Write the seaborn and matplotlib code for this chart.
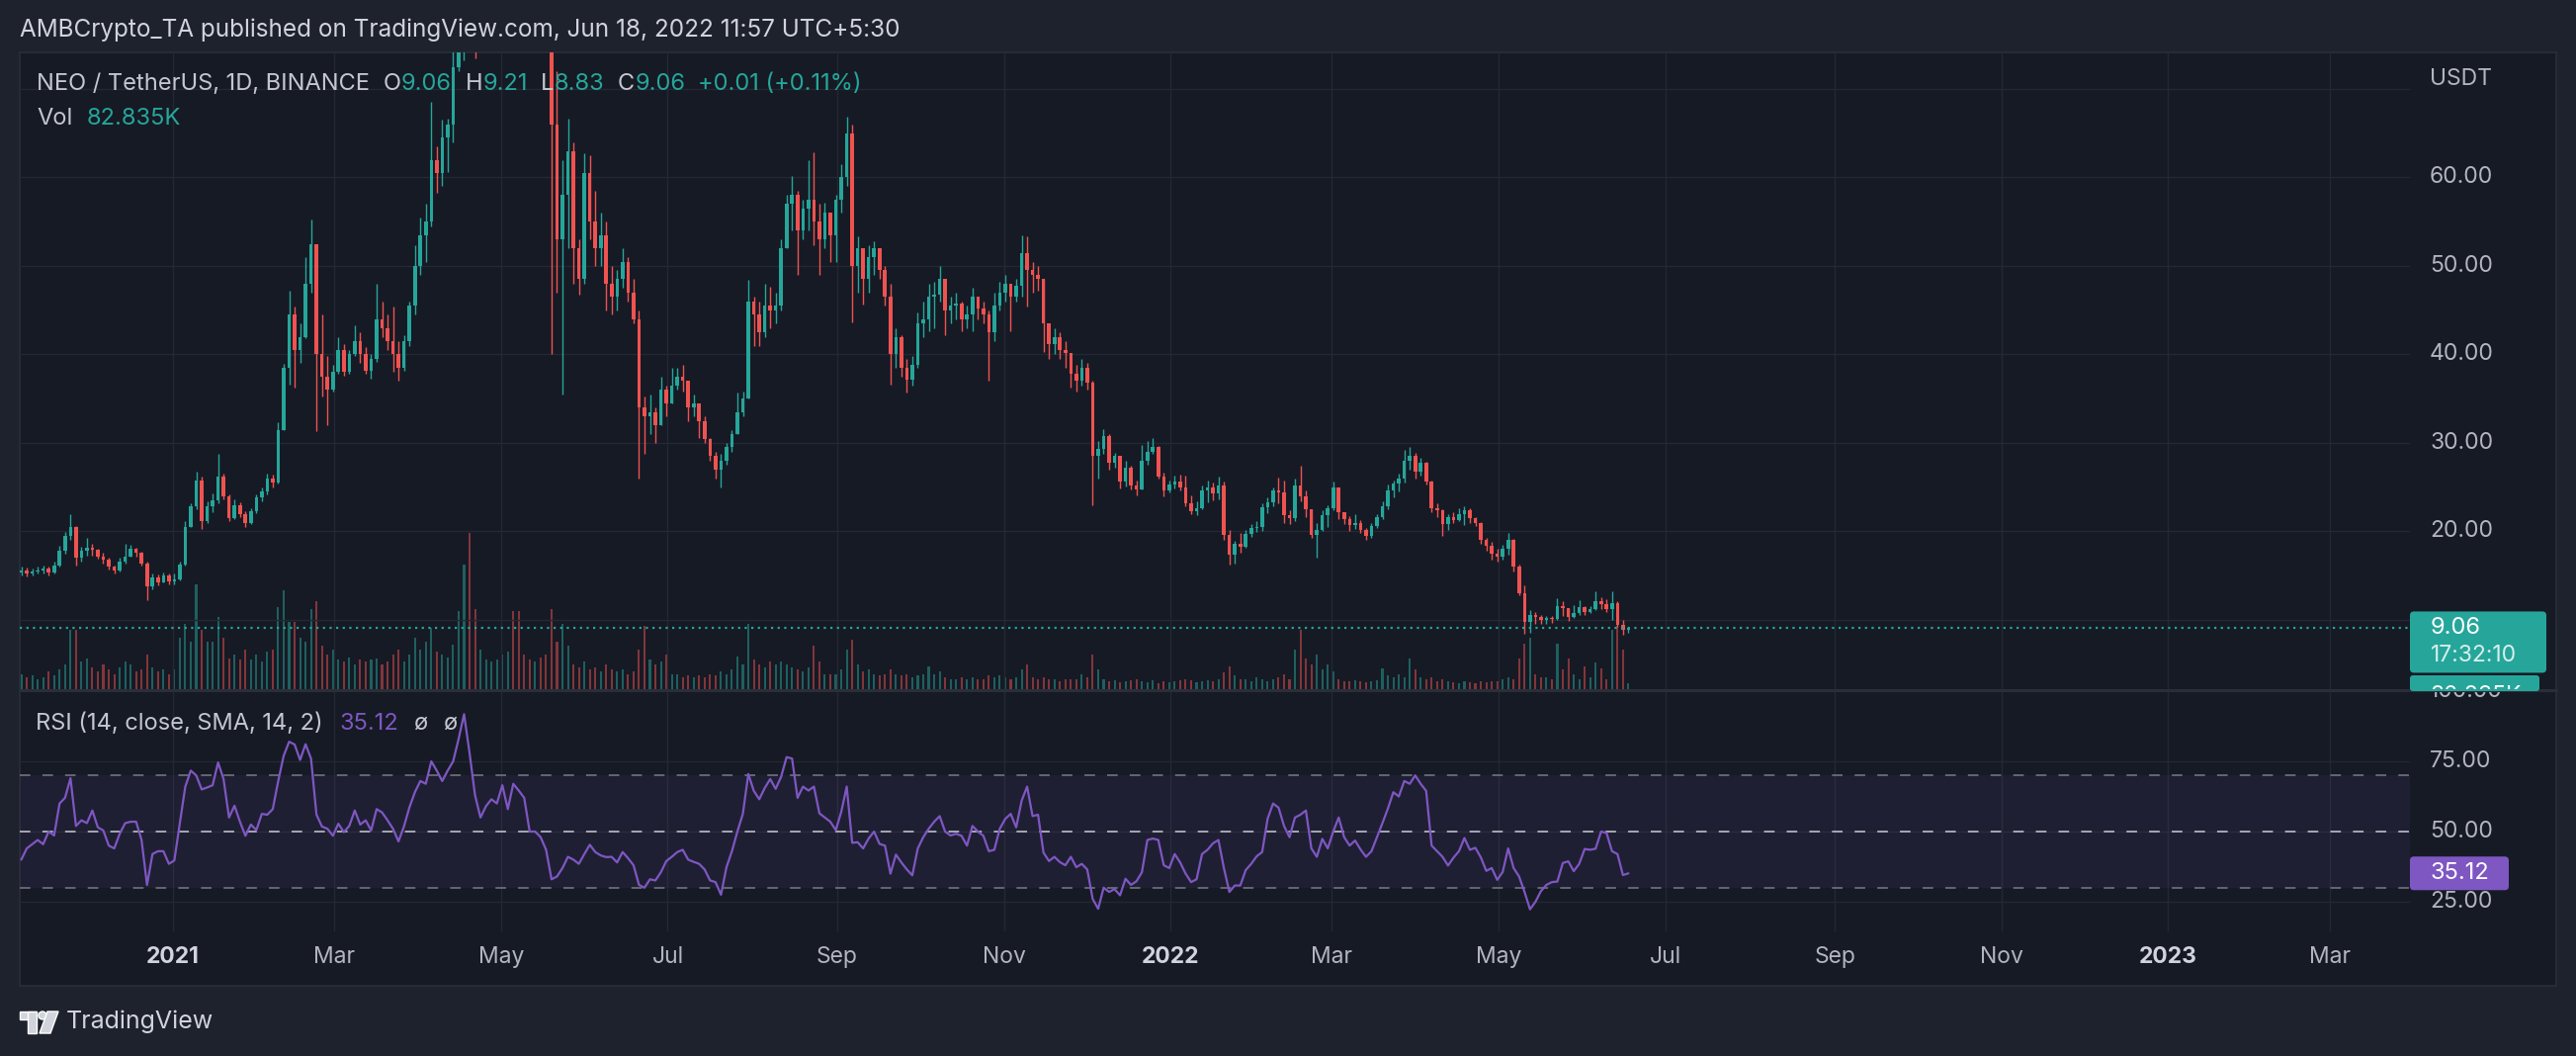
import numpy as np
import pandas as pd
import matplotlib
matplotlib.use("Agg")
import matplotlib.pyplot as plt
from matplotlib.patches import Rectangle, FancyBboxPatch, Polygon, Circle
from matplotlib.lines import Line2D
from matplotlib.transforms import IdentityTransform, Bbox, blended_transform_factory
import seaborn as sns

# NEO / USDT in 2-day steps starting 2020-11-06
first_open = 15.4
close = [
    15.6, 15.2, 15.5, 15.6, 15.8, 15.4, 16.2, 17.8, 19.5, 20.5, 17.0, 17.8, 18.2,
    17.9, 17.2, 16.8, 16.0, 15.6, 16.6, 17.2, 18.0, 17.6, 16.4, 13.8, 14.8, 14.3, 15.0, 14.4,
    14.6, 16.3, 20.5, 22.8, 25.8, 21.2, 22.8, 23.5, 26.2, 24.0, 21.5, 23.0, 22.0, 21.0, 22.3, 23.8,
    24.5, 26.0, 25.5, 31.5, 38.5, 44.5, 40.5, 42.0, 48.0, 52.5, 40.0, 37.5, 36.0, 38.0,
    40.5, 38.0, 40.0, 41.5, 40.0, 38.2, 39.5, 44.0, 43.0, 41.5, 40.0, 38.5, 41.5, 45.5, 50.0,
    53.5, 55.0, 62.0, 60.5, 64.5, 66.0, 72.5, 88.0, 96.0, 88.0, 80.0, 84.0, 96.0, 108.0, 118.0,
    125.0, 132.0, 128.0, 122.0, 110.0, 98.0, 100.0, 92.0, 85.0, 66.0, 53.0, 58.0, 63.0, 52.0, 48.5, 60.5,
    55.0, 52.0, 53.5, 48.0, 46.5, 48.5, 50.5, 47.0, 44.0, 34.0, 33.0, 33.5, 32.0, 36.0, 34.5,
    36.5, 37.5, 37.0, 34.0, 34.5, 32.5, 30.5, 28.5, 27.0, 28.0, 29.5, 31.0, 33.5, 35.0, 46.0,
    44.5, 42.5, 45.5, 45.0, 45.5, 52.0, 57.0, 58.0, 54.0, 56.5, 57.5, 55.0, 53.0, 56.0, 53.5, 57.5,
    60.0, 65.0, 50.0, 52.0, 48.5, 51.0, 52.0, 49.5, 46.5, 40.0, 42.0, 38.5, 37.2, 38.8, 43.5,
    44.0, 46.5, 46.8, 48.5, 45.0, 45.5, 45.8, 44.0, 44.5, 46.5, 45.2, 44.5, 42.5, 45.5, 47.0,
    48.0, 46.5, 47.8, 51.5, 49.5, 49.0, 48.5, 43.5, 41.2, 42.0, 40.5, 40.2, 37.8, 37.0, 38.5,
    36.8, 28.5, 29.3, 30.8, 27.8, 28.5, 25.6, 27.2, 25.2, 24.8, 28.0, 29.0, 29.6, 26.2, 24.6, 25.3,
    25.6, 25.0, 23.2, 22.3, 22.6, 24.6, 25.0, 24.3, 25.2, 19.6, 17.4, 18.6, 18.3, 19.7, 20.4,
    20.5, 22.7, 23.3, 24.6, 24.4, 21.8, 21.5, 25.2, 24.0, 22.5, 19.6, 20.2, 21.8, 22.6,
    25.0, 22.2, 21.4, 20.7, 21.0, 20.2, 19.5, 20.6, 21.6, 22.9, 24.6, 25.4, 26.0, 28.0, 28.6, 26.8,
    27.8, 25.6, 22.6, 22.4, 20.8, 21.6, 21.3, 22.0, 22.4, 21.5, 21.0, 19.0, 18.4, 17.5, 17.2,
    18.0, 19.0, 16.0, 13.0, 9.8, 10.6, 10.3, 10.0, 10.2, 10.1, 11.6, 11.3, 10.3, 10.8, 11.4,
    10.9, 11.2, 12.1, 11.8, 11.2, 11.9, 9.4, 8.9, 9.06,
]
high = [
    16.0, 15.9, 15.8, 16.0, 16.2, 16.0, 16.6, 18.4, 19.9, 21.9, 20.6, 18.3, 19.3,
    18.6, 18.1, 17.6, 17.0, 16.2, 17.0, 18.6, 18.5, 18.2, 17.7, 16.6, 15.2, 15.1, 15.4, 15.2,
    15.2, 16.6, 21.2, 23.2, 26.8, 26.2, 23.4, 24.3, 28.8, 26.5, 24.2, 23.6, 23.3, 22.3, 22.6, 24.2,
    25.0, 26.5, 26.4, 32.3, 38.9, 47.2, 45.4, 43.5, 51.0, 55.3, 52.5, 44.5, 39.8, 38.8,
    42.0, 41.2, 40.5, 43.3, 42.5, 40.8, 40.0, 48.0, 46.0, 44.5, 45.4, 41.5, 42.2, 46.0, 52.3,
    55.5, 57.0, 68.5, 63.5, 66.5, 66.7, 76.0, 95.0, 102.0, 98.0, 90.0, 88.0, 100.0, 112.0, 125.0,
    130.0, 138.0, 140.0, 135.0, 125.0, 115.0, 108.0, 104.0, 95.0, 88.0, 72.0, 62.0, 66.6, 64.0, 53.0, 62.7,
    62.5, 58.5, 56.0, 55.0, 50.0, 49.5, 52.0, 51.0, 48.6, 45.0, 35.3, 35.5, 34.0, 37.5, 36.5,
    38.5, 38.5, 38.8, 37.0, 35.5, 34.0, 33.0, 30.6, 29.0, 28.8, 30.0, 31.5, 35.7, 35.8, 48.4,
    46.5, 46.0, 48.0, 47.7, 47.0, 53.0, 58.0, 60.2, 58.5, 57.5, 62.0, 62.9, 57.0, 57.2, 56.0, 58.0,
    61.5, 66.9, 66.0, 53.3, 52.0, 52.3, 52.8, 51.5, 50.0, 48.0, 43.0, 42.2, 39.5, 39.8, 44.8,
    46.0, 48.0, 48.2, 50.0, 48.0, 46.5, 47.0, 46.0, 45.5, 47.5, 46.5, 46.0, 45.0, 47.0, 48.2,
    49.0, 48.0, 48.5, 53.5, 53.3, 50.5, 50.0, 48.5, 43.5, 43.0, 42.5, 41.5, 40.0, 38.8, 39.5,
    39.0, 37.0, 30.2, 31.6, 31.0, 28.9, 28.2, 28.0, 27.4, 25.8, 29.8, 30.2, 30.6, 29.7, 26.7, 25.8,
    26.3, 26.4, 26.3, 24.1, 23.4, 25.2, 25.8, 25.5, 26.2, 25.6, 20.2, 18.9, 19.8, 20.2, 20.8,
    21.2, 23.2, 23.8, 25.0, 26.1, 25.8, 22.4, 26.0, 27.4, 24.6, 22.5, 21.0, 22.4, 23.0,
    25.6, 25.0, 22.2, 21.7, 21.9, 21.3, 20.4, 21.0, 21.9, 23.4, 25.3, 25.8, 26.5, 29.2, 29.5, 28.9,
    28.3, 27.9, 25.8, 23.2, 22.5, 22.0, 22.2, 22.6, 22.9, 22.6, 21.6, 21.1, 19.3, 18.8, 18.0,
    18.5, 19.8, 19.2, 16.3, 13.9, 11.1, 10.9, 10.6, 10.5, 10.5, 12.5, 12.1, 11.3, 11.7, 12.2,
    11.6, 11.6, 13.2, 12.6, 12.3, 13.2, 12.1, 10.0, 9.21,
]
low = [
    15.0, 14.9, 15.0, 15.2, 15.3, 15.0, 15.3, 16.0, 17.5, 19.0, 16.1, 16.6, 17.3,
    17.3, 16.9, 16.4, 15.7, 15.2, 15.5, 16.4, 17.2, 17.1, 16.2, 12.2, 13.5, 13.9, 14.2, 14.0,
    14.0, 14.5, 16.2, 20.8, 22.5, 20.3, 21.0, 22.2, 23.2, 23.6, 21.2, 21.4, 21.6, 20.5, 20.8, 22.1,
    23.4, 24.2, 25.0, 25.4, 31.8, 36.6, 36.2, 39.0, 41.8, 47.0, 31.3, 35.3, 32.0, 35.8,
    37.8, 37.6, 37.8, 39.8, 39.0, 37.8, 37.3, 39.2, 42.0, 40.5, 38.0, 37.0, 38.2, 41.0, 44.5,
    49.0, 50.5, 54.5, 58.3, 59.0, 60.6, 64.0, 72.0, 73.2, 80.0, 73.5, 76.0, 82.0, 94.0, 104.0,
    115.0, 122.0, 120.0, 115.0, 100.0, 92.0, 88.0, 85.0, 80.0, 40.0, 47.0, 35.5, 52.0, 48.0, 46.8, 48.0,
    53.0, 50.0, 50.0, 45.0, 44.5, 45.0, 47.5, 46.0, 43.5, 26.0, 28.8, 31.0, 30.0, 32.0, 33.0,
    34.5, 36.0, 35.8, 32.5, 33.0, 30.6, 30.0, 28.0, 26.0, 25.0, 27.5, 29.0, 31.0, 33.0, 35.0,
    41.0, 41.0, 42.0, 43.0, 43.5, 45.0, 52.0, 54.0, 49.0, 53.0, 54.0, 52.3, 49.0, 52.0, 50.5, 50.5,
    56.0, 59.0, 43.6, 47.0, 45.6, 47.0, 49.0, 48.5, 45.5, 36.6, 38.5, 37.5, 35.7, 36.5, 38.5,
    42.0, 42.6, 43.0, 46.0, 42.2, 43.5, 44.0, 42.6, 43.0, 42.6, 44.0, 43.5, 37.0, 41.5, 45.0,
    46.0, 42.6, 46.0, 46.5, 45.4, 47.0, 47.2, 40.3, 39.5, 40.0, 39.5, 38.5, 36.2, 35.8, 36.5,
    36.0, 23.0, 26.0, 28.8, 27.0, 27.2, 24.9, 25.1, 24.8, 24.1, 24.8, 27.5, 28.8, 26.0, 24.0, 24.4,
    24.9, 24.6, 22.9, 21.9, 21.8, 22.5, 23.3, 23.5, 23.6, 19.1, 16.3, 16.4, 17.6, 18.2, 19.4,
    19.9, 20.1, 22.1, 22.8, 23.2, 20.9, 20.8, 21.2, 23.4, 21.6, 19.3, 17.0, 20.0, 20.5,
    22.4, 21.4, 20.8, 20.0, 20.3, 19.8, 19.0, 19.3, 20.4, 21.4, 22.5, 23.9, 24.5, 25.5, 27.0, 26.0,
    26.3, 25.3, 22.2, 21.6, 19.5, 20.2, 21.0, 21.2, 20.7, 21.0, 20.6, 18.6, 17.8, 16.8, 16.6,
    16.8, 17.4, 15.5, 12.8, 8.4, 8.5, 9.6, 9.5, 9.6, 9.7, 10.0, 10.5, 9.9, 10.2, 10.6,
    10.6, 10.8, 11.1, 11.2, 10.9, 10.0, 9.2, 8.3, 8.6,
]
volume_k = [
    450, 360, 420, 300, 360, 540, 420, 600, 750, 1800, 1800, 840, 930,
    660, 540, 750, 600, 450, 660, 840, 750, 540, 600, 1050, 660, 540, 600, 450,
    600, 1560, 1980, 1440, 3180, 1800, 1440, 1440, 2190, 1560, 930, 1050, 900, 1200, 900, 1050,
    840, 1140, 1200, 2490, 3000, 2040, 2040, 1560, 1440, 2430, 2670, 1320, 1050, 1200,
    900, 840, 960, 750, 900, 840, 900, 930, 750, 840, 1050, 1200, 840, 1050, 1560,
    1200, 1440, 1860, 1140, 1050, 960, 1350, 2370, 3780, 4740, 2430, 1200, 900, 840, 900,
    1050, 1140, 2370, 2370, 1050, 900, 840, 960, 1050, 2430, 1440, 1980, 1320, 750, 660, 840,
    600, 660, 540, 750, 600, 540, 600, 450, 540, 1200, 1920, 900, 750, 840, 1050,
    450, 450, 360, 420, 360, 420, 360, 450, 420, 540, 450, 600, 990, 750, 1980,
    900, 750, 660, 840, 750, 840, 750, 660, 600, 540, 660, 1320, 840, 450, 450, 450,
    600, 1200, 1500, 750, 540, 600, 450, 420, 450, 600, 450, 420, 450, 360, 420,
    450, 690, 450, 540, 360, 300, 300, 360, 300, 360, 300, 300, 420, 360, 420,
    360, 300, 360, 600, 750, 360, 300, 360, 300, 300, 240, 300, 300, 300, 450,
    360, 1050, 600, 300, 240, 270, 210, 240, 270, 300, 240, 210, 270, 180, 240, 210,
    240, 270, 300, 270, 210, 240, 270, 240, 300, 510, 690, 420, 300, 300, 240,
    360, 300, 240, 300, 360, 450, 300, 1200, 1800, 930, 750, 1050, 600, 750,
    540, 300, 240, 240, 270, 240, 210, 240, 270, 630, 420, 360, 450, 360, 930, 600,
    360, 300, 360, 240, 300, 240, 210, 180, 240, 210, 180, 240, 210, 240, 240,
    300, 360, 300, 930, 1380, 1560, 450, 360, 360, 300, 1380, 600, 930, 450, 300,
    690, 360, 810, 630, 300, 1800, 1920, 1200, 180,
]
rsi = [
    40, 44, 45.5, 47, 45.5, 50, 48.6, 60, 62, 69, 52, 54, 53,
    57.5, 51.5, 50.4, 45, 44, 49.2, 53, 53.5, 53.5, 47, 31, 42, 43, 43, 38.5,
    39.7, 53, 66, 71.7, 70, 65, 65.7, 66.5, 74.6, 68.7, 55, 59.2, 53.5, 48.5, 52.5, 50.5,
    56.3, 56, 58, 68, 77, 82, 81, 75.5, 81.1, 76, 56, 51.8, 51, 48.5,
    52.8, 49.8, 52, 57.5, 52.5, 54, 50.4, 58, 56.8, 54, 51, 46.5, 51.8, 58.6, 64,
    68, 67, 75, 71.7, 68, 71.7, 75, 83, 91.8, 78, 63, 55, 59, 61.5, 60,
    66.5, 58, 67, 64.6, 62, 50, 50, 48, 43.5, 33, 34, 37, 41, 40, 38.5, 42,
    45.3, 42.7, 41.5, 40.9, 41, 39, 42.7, 40.5, 38, 31, 30, 33, 32.6, 35.5, 39.5,
    41, 42.7, 43.5, 40, 39.2, 38.5, 36.5, 32.6, 32, 27.5, 37.3, 43, 50, 56.3, 70.5,
    64.5, 61.5, 65.5, 68.7, 65.2, 69.5, 76.5, 76, 62, 66, 64.6, 66, 56.5, 55, 53.5, 50.5,
    57, 66, 46, 46.2, 44, 47.5, 50, 45.6, 45, 35, 41.8, 39, 36.5, 34.4, 44,
    48, 51, 53.5, 55.5, 50, 48.6, 49.2, 48.5, 45, 52, 50, 48.5, 43, 43.5, 51,
    54.5, 56.3, 51.5, 61, 66, 55.5, 56, 42.5, 39.5, 41, 39.1, 38, 41, 37.3, 38.5,
    36.5, 26, 22.5, 30, 28.5, 29.5, 27.3, 33.2, 31, 32.3, 35.5, 47, 47.5, 47, 38, 37,
    42, 39, 35, 32, 33, 42, 43.5, 45.8, 47, 37, 28.5, 30.8, 30.8, 36.3, 38.5,
    41.2, 42.7, 54.6, 60, 58.5, 52, 48, 55, 56, 57.5, 44, 41, 47.4, 44,
    50, 55, 48, 45, 46.8, 43.6, 41, 43, 48, 53, 58.2, 64, 62.5, 68, 67, 70,
    67, 64.5, 45, 43, 41, 37.9, 40.7, 43, 47.7, 43.5, 44.2, 40.8, 36, 37, 32.8,
    35.6, 44, 37, 34, 28.5, 22.3, 25, 28.8, 31, 32, 32.2, 38.8, 39.4, 35.9, 38.5,
    43.8, 43.5, 43.9, 50, 49.5, 43, 42, 34.5, 35.12,
]
tick_dates = pd.to_datetime([
    "2021-01-01", "2021-03-01", "2021-05-01", "2021-07-01", "2021-09-01", "2021-11-01",
    "2022-01-01", "2022-03-01", "2022-05-01", "2022-07-01", "2022-09-01", "2022-11-01",
    "2023-01-01", "2023-03-01",
])
tick_labels = ["2021", "Mar", "May", "Jul", "Sep", "Nov",
               "2022", "Mar", "May", "Jul", "Sep", "Nov", "2023", "Mar"]
price_ticks = [20, 30, 40, 50, 60]
rsi_ticks = [25, 50, 75]

W, H = 2606, 1068
BG = "#161a25"
OUTER = "#1e222d"
FRAME = "#2a2e39"
GRID = "#242834"
UP = "#26a69a"
DOWN = "#ef5350"
PURPLE = "#7e57c2"
LABEL = "#b2b5be"
BRIGHT = "#d1d4dc"

sns.set_theme(style="dark", rc={"axes.facecolor": BG, "figure.facecolor": OUTER,
                                "grid.color": GRID, "axes.edgecolor": BG})
plt.rcParams["font.family"] = ["Inter", "DejaVu Sans"]

fig = plt.figure(figsize=(W / 100, H / 100), dpi=100)
PX = IdentityTransform()


def box(x0, y0, x1, y1):
    return [x0 / W, 1 - y1 / H, (x1 - x0) / W, (y1 - y0) / H]


def text_px(x, y, s, **kw):
    return fig.text(x, H - y, s, transform=PX, **kw)


fig.add_artist(Rectangle((20, H - 997), 2566, 944, transform=PX, facecolor=BG,
                         edgecolor=FRAME, linewidth=1.2, zorder=-2))

dates = pd.Timestamp("2020-11-06") + pd.to_timedelta(np.arange(len(close)) * 2 + 0.5, unit="D")
c = np.array(close)
o = np.r_[first_open, c[:-1]]
hi = np.maximum.reduce([np.array(high), o, c])
lo = np.minimum.reduce([np.array(low), o, c])
col = np.where(c >= o, UP, DOWN)

base = pd.Timestamp("2021-01-01")
xlim = (base - pd.Timedelta(days=56.06), base + pd.Timedelta(days=818.44))

# ---- price panel
ax = fig.add_axes(box(20, 53, 2438, 697))
axv = ax.twinx()
ax.set_zorder(axv.get_zorder() + 1)
ax.patch.set_visible(False)

axv.bar(dates, volume_k, width=0.75, color=col, alpha=0.5, linewidth=0)
axv.set_ylim(0, max(volume_k) / 0.245)
axv.set_yticks([])
axv.grid(False)

ax.vlines(dates, lo, hi, colors=col, linewidth=1.0, zorder=2)
ax.bar(dates, np.maximum(np.abs(c - o), 0.12), bottom=np.minimum(o, c), width=1.3,
       color=col, linewidth=0, zorder=3)
ax.axhline(c[-1], color=UP, linewidth=1.6, linestyle=(0, (1, 2)), zorder=4)

ax.set_xlim(*xlim)
ax.set_ylim(2.18, 74.13)
ax.set_yticks(range(10, 80, 10))
ax.set_xticks(tick_dates)
ax.set_axisbelow(True)
ax.grid(True, color=GRID, linewidth=1.0)
for a in (ax, axv):
    a.tick_params(length=0, labelbottom=False, labelleft=False, labelright=False)
    for s in a.spines.values():
        s.set_visible(False)

# ---- RSI panel
axr = fig.add_axes(box(20, 699, 2438, 942), sharex=ax)
axr.patch.set_visible(False)
axr.axhspan(30, 70, color=PURPLE, alpha=0.09, linewidth=0)
for lvl, lc in ((70, "#787b86"), (50, "#c9cbd3"), (30, "#787b86")):
    axr.axhline(lvl, color=lc, linewidth=1.1, dashes=(7, 8))
sns.lineplot(x=dates, y=rsi, ax=axr, color=PURPLE, linewidth=1.6)
axr.set_ylim(14.44, 100)
axr.set_yticks(rsi_ticks)
axr.set_xticks(tick_dates)
axr.set_xticklabels(tick_labels)
axr.set_xlabel("")
axr.set_ylabel("")
axr.set_axisbelow(True)
axr.grid(True, color=GRID, linewidth=1.0)
axr.tick_params(axis="x", length=0, pad=11, labelsize=16.5, labelcolor=LABEL)
axr.tick_params(axis="y", length=0, labelleft=False)
for lab in axr.get_xticklabels():
    if lab.get_text().isdigit():
        lab.set_fontweight("bold")
        lab.set_color(BRIGHT)
for s in axr.spines.values():
    s.set_visible(False)
axr.set_xlim(*xlim)

fig.add_artist(Line2D([20, 2586], [H - 698, H - 698], transform=PX, color=FRAME,
                      linewidth=2.2, zorder=4))

# ---- right-hand scales
price_tr = blended_transform_factory(PX, ax.transData)
rsi_tr = blended_transform_factory(PX, axr.transData)
for v in price_ticks:
    ax.text(2458, v, f"{v:.2f}", transform=price_tr, color=LABEL, fontsize=16.5,
            va="center", ha="left", clip_on=False)
text_px(2458, 80, "USDT", color=LABEL, fontsize=16.5, va="center")
for v in rsi_ticks:
    axr.text(2458, v, f"{v:.2f}", transform=rsi_tr, color=LABEL, fontsize=16.5,
             va="center", ha="left", clip_on=False)
t100 = axr.text(2458, 100, "100.00", transform=rsi_tr, color=LABEL, fontsize=16.5,
                va="center", ha="left", clip_on=True)
t100.set_clip_box(Bbox.from_extents(2438, H - 942, 2586, H - 699))

# last-price tag
y_last = ax.transData.transform((0, c[-1]))[1]
fig.add_artist(FancyBboxPatch((2438, y_last - 45), 138, 62, boxstyle="round,pad=0,rounding_size=4",
                              transform=PX, facecolor=UP, edgecolor="none", zorder=5))
fig.add_artist(FancyBboxPatch((2438, H - 699), 131, 16, boxstyle="round,pad=0,rounding_size=3",
                              transform=PX, facecolor=UP, edgecolor="none", zorder=5))
fig.text(2459, y_last, f"{c[-1]:.2f}", transform=PX, color="white", fontsize=17,
         va="center", zorder=6)
fig.text(2459, y_last - 28, "17:32:10", transform=PX, color="#d6efec", fontsize=16.5,
         va="center", zorder=6)
tv = fig.text(2459, H - 704, "82.835K", transform=PX, color="white", fontsize=16.5,
              va="center", zorder=6)
tv.set_clip_box(Bbox.from_extents(2438, H - 697, 2586, H - 683))
tv.set_clip_on(True)

# RSI tag
y_rsi = axr.transData.transform((0, rsi[-1]))[1]
fig.add_artist(FancyBboxPatch((2438, y_rsi - 17), 100, 34, boxstyle="round,pad=0,rounding_size=4",
                              transform=PX, facecolor=PURPLE, edgecolor="none", zorder=5))
fig.text(2459, y_rsi, f"{rsi[-1]:.2f}", transform=PX, color="white", fontsize=17,
         va="center", zorder=6)

# ---- legends and header
renderer = fig.canvas.get_renderer()


def chain(x, y, parts, size=17):
    for s, color, gap in parts:
        t = text_px(x, y, s, color=color, fontsize=size, va="center")
        x = t.get_window_extent(renderer).x1 + gap


text_px(20, 30, "AMBCrypto_TA published on TradingView.com, Jun 18, 2022 11:57 UTC+5:30",
        color=BRIGHT, fontsize=17.5, va="center")
chain(37, 85, [("NEO / TetherUS, 1D, BINANCE", "#c4c7cf", 14), ("O", "#c4c7cf", 0),
               ("9.06", UP, 14), ("H", "#c4c7cf", 0), ("9.21", UP, 13), ("L", "#c4c7cf", 0),
               ("8.83", UP, 14), ("C", "#c4c7cf", 0), ("9.06", UP, 13),
               ("+0.01 (+0.11%)", UP, 0)])
chain(37, 120, [("Vol", "#c4c7cf", 14), ("82.835K", UP, 0)])
chain(36, 732, [("RSI (14, close, SMA, 14, 2)", "#c4c7cf", 17), ("35.12", PURPLE, 16),
                ("ø", "#c4c7cf", 15), ("ø", "#c4c7cf", 0)])

# ---- TradingView footer
logo = BRIGHT
fig.add_artist(Rectangle((20, H - 1031), 17, 8, transform=PX, facecolor=logo, zorder=5))
fig.add_artist(Rectangle((28, H - 1045), 9, 22, transform=PX, facecolor=logo, zorder=5))
fig.add_artist(Circle((43, H - 1027), 4, transform=PX, facecolor=logo, zorder=5))
fig.add_artist(Polygon([(48, H - 1023), (59, H - 1023), (51, H - 1045), (40, H - 1045)],
                       transform=PX, facecolor=logo, zorder=5))
text_px(67, 1033, "TradingView", color=BRIGHT, fontsize=18, va="center")

fig.savefig("out.png", dpi=100, facecolor=OUTER)
